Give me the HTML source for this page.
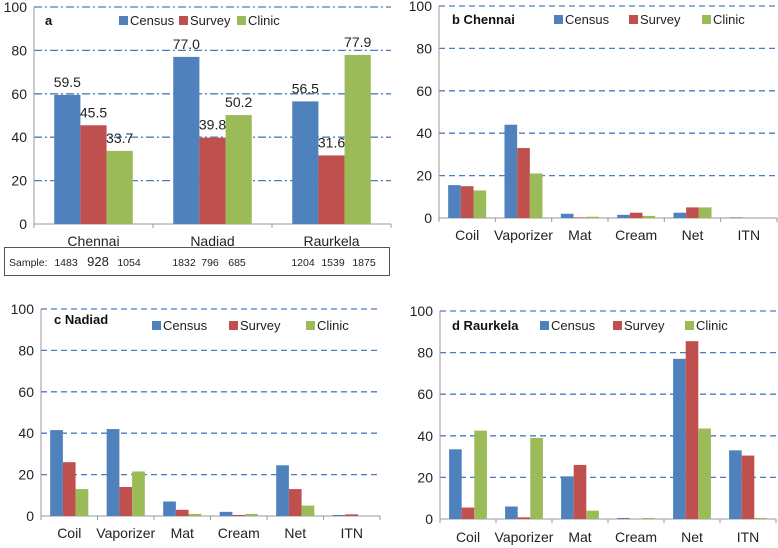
<!DOCTYPE html>
<html><head><meta charset="utf-8"><style>
body{margin:0;background:#fff;}
svg{display:block;font-family:"Liberation Sans",sans-serif;}
</style></head><body>
<svg id="chart" width="778" height="548"></svg>
<script>
const seriesNames=["Census","Survey","Clinic"];
const colors=["#4f81bd","#c0504d","#9bbb59"];
const cityCats=["Chennai","Nadiad","Raurkela"];
const aCensus=[59.5,77.0,56.5];
const aSurvey=[45.5,39.8,31.6];
const aClinic=[33.7,50.2,77.9];
const sampleLabels=["1483","928","1054","1832","796","685","1204","1539","1875"];
const methodCats=["Coil","Vaporizer","Mat","Cream","Net","ITN"];
const bCensus=[15.5,44,2,1.5,2.5,0.3];
const bSurvey=[15,33,0.3,2.5,5,0];
const bClinic=[13,21,0.6,1,5,0];
const cCensus=[41.5,42,7,2,24.5,0.5];
const cSurvey=[26,14,3,0.5,13,0.8];
const cClinic=[13,21.5,1,1,5,0];
const dCensus=[33.5,6,20.5,0.5,77,33];
const dSurvey=[5.5,0.8,26,0,85.5,30.5];
const dClinic=[42.5,39,4,0.5,43.5,0.5];
const yTicks=[0,20,40,60,80,100];

const NS="http://www.w3.org/2000/svg";
const svg=document.getElementById('chart');
function mk(tag,attrs,parent,text){const e=document.createElementNS(NS,tag);for(const k in attrs)e.setAttribute(k,attrs[k]);if(text!==undefined)e.textContent=text;(parent||svg).appendChild(e);return e;}

function panel(p){
  const g=mk('g',{});
  
  
  const y=v=>p.y0-(v/100)*(p.y0-p.y100);
  const cw=(p.x1-p.x0)/p.cats.length;
  yTicks.forEach(t=>{
    if(t>0){const l=mk('line',{x1:p.x0,x2:p.x1,y1:y(t),y2:y(t),stroke:'#4a7ebb','stroke-width':1.3,'stroke-dasharray':p.dash},g);
      }
    const tl=mk('text',{x:p.x0-7,y:y(t)+5,'text-anchor':'end','font-size':14,fill:'#222'},g,String(t));
    
  });
  mk('line',{x1:p.x0,x2:p.x0,y1:p.y100,y2:p.y0,stroke:'#999'},g);
  mk('line',{x1:p.x0,x2:p.x1,y1:p.y0,y2:p.y0,stroke:'#999'},g);
  for(let i=0;i<=p.cats.length;i++)mk('line',{x1:p.x0+i*cw,x2:p.x0+i*cw,y1:p.y0,y2:p.y0+4,stroke:'#999'},g);
  const bw=cw*p.bf, off=(cw-3*bw)/2;
  p.cats.forEach((c,i)=>{
    p.series.forEach((arr,s)=>{
      const v=arr[i];const bx=p.x0+i*cw+off+s*bw;
      const r=mk('rect',{x:bx,y:y(v),width:bw,height:y(0)-y(v),fill:colors[s]},g);
      
      
      if(p.values){const t=mk('text',{x:bx+bw/2,y:y(v)-8,'text-anchor':'middle','font-size':14,fill:'#222'},g,v.toFixed(1));
        }
    });
    const xl=mk('text',{x:p.x0+(i+0.5)*cw,y:p.labY,'text-anchor':'middle','font-size':14,fill:'#222'},g,c);
    
  });
  const tt=mk('text',{x:p.titleX,y:p.titleY,'font-size':13,'font-weight':'bold',fill:'#111'},g,p.title);
  
  seriesNames.forEach((n,s)=>{
    const lg=mk('g',{},g);
    
    
    mk('rect',{x:p.legX[s],y:p.legY-9,width:9,height:9,fill:colors[s]},lg);
    mk('text',{x:p.legX[s]+11,y:p.legY,'font-size':13,fill:'#222'},lg,n);
  });
}

panel({name:'panel-a',cats:cityCats,series:[aCensus,aSurvey,aClinic],x0:34,x1:391,y0:224,y100:7,bf:0.22,dash:'8 3 2 3',values:true,labY:246,title:'a',titleX:45,titleY:25,legX:[119,179,237],legY:25});
panel({name:'panel-b-chennai',cats:methodCats,series:[bCensus,bSurvey,bClinic],x0:439,x1:777,y0:218,y100:6,bf:0.225,dash:'6 4',values:false,labY:240,title:'b Chennai',titleX:452,titleY:24,legX:[554,629,702],legY:24});
panel({name:'panel-c-nadiad',cats:methodCats,series:[cCensus,cSurvey,cClinic],x0:41,x1:380,y0:516,y100:309,bf:0.225,dash:'6 4',values:false,labY:538,title:'c Nadiad',titleX:54,titleY:324,legX:[152,229,306],legY:330});
panel({name:'panel-d-raurkela',cats:methodCats,series:[dCensus,dSurvey,dClinic],x0:440,x1:776,y0:519,y100:311,bf:0.225,dash:'6 4',values:false,labY:542,title:'d Raurkela',titleX:452,titleY:330,legX:[540,613,685],legY:330});

// sample box
const sb=mk('g',{});


mk('rect',{x:4.5,y:247.5,width:385,height:28,fill:'none',stroke:'#555'},sb);
mk('text',{x:9,y:266,'font-size':10.5,fill:'#222'},sb,'Sample:');
const sx=[66,98,129,184,210,237,303,333,364];
sampleLabels.forEach((s,i)=>mk('text',{x:sx[i],y:266,'text-anchor':'middle','font-size':s==='928'?13:10.5,fill:'#222'},sb,s));
</script>
</body></html>
